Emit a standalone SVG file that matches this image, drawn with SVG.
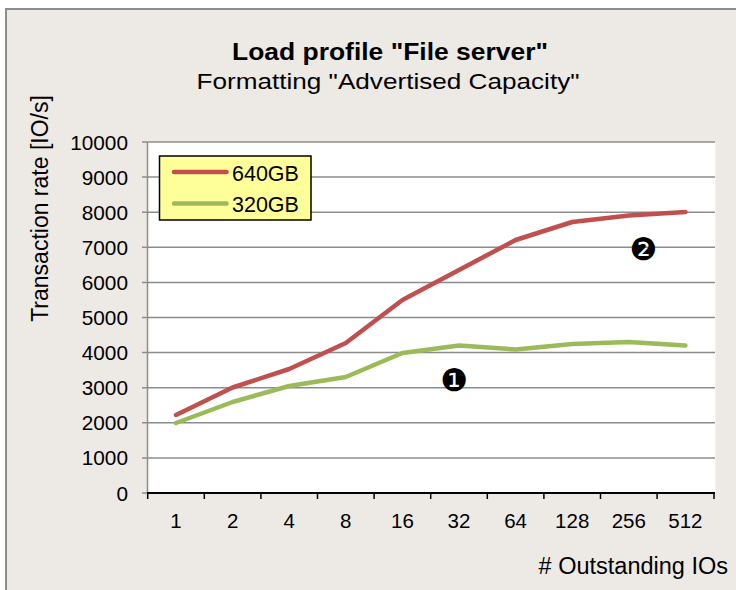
<svg xmlns="http://www.w3.org/2000/svg" width="736" height="590" viewBox="0 0 736 590">
  <style>
    text { font-family: "Liberation Sans", Arial, sans-serif; fill: #000; }
    .grid { stroke: #8C8C8C; stroke-width: 1.5; }
    .tick { stroke: #8C8C8C; stroke-width: 1.5; }
    .xtick { stroke: #000; stroke-width: 1.5; }
    .ylab { font-size: 20.8px; text-anchor: end; }
    .xlab { font-size: 20.5px; text-anchor: middle; }
    .series { fill: none; stroke-width: 4.5; stroke-linecap: round; stroke-linejoin: round; }
    .s640 { stroke: #C0504D; }
    .s320 { stroke: #9BBB59; }
    .badge { font-family: "DejaVu Sans", sans-serif; font-size: 31px; text-anchor: middle; }
    .legtext { font-size: 21.5px; }
  </style>

  <!-- chart frame -->
  <rect x="0" y="0" width="736" height="590" fill="#FFFFFF"/>
  <rect x="6" y="9" width="740" height="600" fill="#EDE9E5" stroke="#8C8C8C" stroke-width="2"/>

  <!-- titles -->
  <text x="390" y="59.5" font-size="23.5" font-weight="bold" text-anchor="middle" textLength="316" lengthAdjust="spacingAndGlyphs">Load profile "File server"</text>
  <text x="388" y="89" font-size="22.5" text-anchor="middle" textLength="383" lengthAdjust="spacingAndGlyphs">Formatting "Advertised Capacity"</text>

  <!-- plot area -->
  <rect x="147.5" y="142" width="568" height="351" fill="#FFFFFF"/>

  <g id="gridlines">
    <line class="grid" x1="142" y1="142" x2="715" y2="142"/>
    <line class="grid" x1="142" y1="177.1" x2="715" y2="177.1"/>
    <line class="grid" x1="142" y1="212.2" x2="715" y2="212.2"/>
    <line class="grid" x1="142" y1="247.3" x2="715" y2="247.3"/>
    <line class="grid" x1="142" y1="282.4" x2="715" y2="282.4"/>
    <line class="grid" x1="142" y1="317.5" x2="715" y2="317.5"/>
    <line class="grid" x1="142" y1="352.6" x2="715" y2="352.6"/>
    <line class="grid" x1="142" y1="387.7" x2="715" y2="387.7"/>
    <line class="grid" x1="142" y1="422.8" x2="715" y2="422.8"/>
    <line class="grid" x1="142" y1="457.9" x2="715" y2="457.9"/>
    <line class="tick" x1="142" y1="493" x2="147.5" y2="493"/>
  </g>

  <g id="axes">
    <line class="tick" x1="147.5" y1="142" x2="147.5" y2="493"/>
    <line x1="147" y1="493" x2="715" y2="493" stroke="#000" stroke-width="2"/>
    <line class="xtick" x1="147.7" y1="493" x2="147.7" y2="499"/>
    <line class="xtick" x1="204.3" y1="493" x2="204.3" y2="499"/>
    <line class="xtick" x1="260.9" y1="493" x2="260.9" y2="499"/>
    <line class="xtick" x1="317.5" y1="493" x2="317.5" y2="499"/>
    <line class="xtick" x1="374.1" y1="493" x2="374.1" y2="499"/>
    <line class="xtick" x1="430.7" y1="493" x2="430.7" y2="499"/>
    <line class="xtick" x1="487.3" y1="493" x2="487.3" y2="499"/>
    <line class="xtick" x1="543.9" y1="493" x2="543.9" y2="499"/>
    <line class="xtick" x1="600.5" y1="493" x2="600.5" y2="499"/>
    <line class="xtick" x1="657.1" y1="493" x2="657.1" y2="499"/>
    <line class="xtick" x1="714" y1="493" x2="714" y2="499"/>
  </g>

  <g id="y-labels">
    <text class="ylab" x="128" y="149.5">10000</text>
    <text class="ylab" x="128" y="184.6">9000</text>
    <text class="ylab" x="128" y="219.7">8000</text>
    <text class="ylab" x="128" y="254.8">7000</text>
    <text class="ylab" x="128" y="289.9">6000</text>
    <text class="ylab" x="128" y="325">5000</text>
    <text class="ylab" x="128" y="360.1">4000</text>
    <text class="ylab" x="128" y="395.2">3000</text>
    <text class="ylab" x="128" y="430.3">2000</text>
    <text class="ylab" x="128" y="465.4">1000</text>
    <text class="ylab" x="128" y="500.5">0</text>
  </g>

  <g id="x-labels">
    <text class="xlab" x="176" y="528.3">1</text>
    <text class="xlab" x="232.6" y="528.3">2</text>
    <text class="xlab" x="289.2" y="528.3">4</text>
    <text class="xlab" x="345.8" y="528.3">8</text>
    <text class="xlab" x="402.4" y="528.3">16</text>
    <text class="xlab" x="459" y="528.3">32</text>
    <text class="xlab" x="515.6" y="528.3">64</text>
    <text class="xlab" x="572.2" y="528.3">128</text>
    <text class="xlab" x="628.8" y="528.3">256</text>
    <text class="xlab" x="685.4" y="528.3">512</text>
  </g>

  <!-- axis titles -->
  <text x="48" y="208.5" font-size="23" text-anchor="middle" transform="rotate(-90 48 208.5)">Transaction rate [IO/s]</text>
  <text x="728" y="573.5" font-size="23.5" text-anchor="end"># Outstanding IOs</text>

  <g id="series-640GB">
    <polyline class="series s640" points="176,415 232.6,387.5 289.2,369 345.8,343 402.4,300 459,270 515.6,240 572.2,222 628.8,215.5 685.4,212"/>
  </g>
  <g id="series-320GB">
    <polyline class="series s320" points="176,423 232.6,402 289.2,386 345.8,377 402.4,353 459,345.5 515.6,349.5 572.2,344 628.8,342 685.4,345.5"/>
  </g>

  <g id="callout-1">
    <text class="badge" x="454.5" y="390.5">❶</text>
  </g>
  <g id="callout-2">
    <text class="badge" x="643.5" y="260">❷</text>
  </g>

  <g id="legend">
    <rect x="159.5" y="156" width="151.5" height="64" fill="#FFFF99" stroke="#000" stroke-width="1.5"/>
    <line class="series s640" x1="174" y1="172" x2="226.5" y2="172"/>
    <text class="legtext" x="232" y="180.5">640GB</text>
    <line class="series s320" x1="174" y1="203.5" x2="226.5" y2="203.5"/>
    <text class="legtext" x="232" y="211.5">320GB</text>
  </g>
</svg>
